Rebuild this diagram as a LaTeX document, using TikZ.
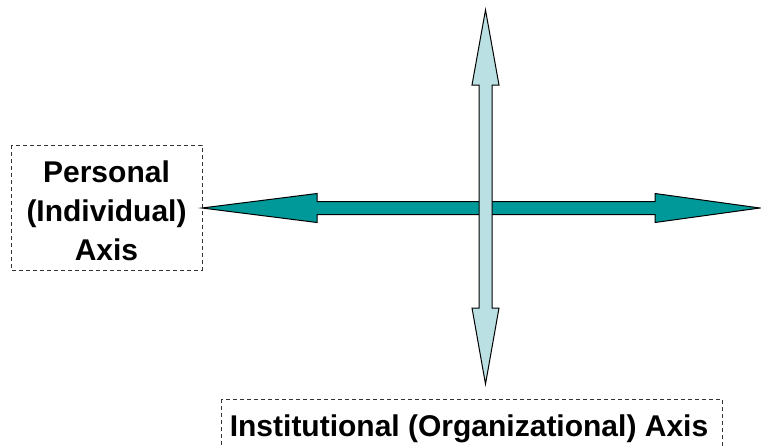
\documentclass[tikz,border=0pt]{standalone}
\usepackage{fontspec}
\setmainfont{Liberation Sans}
\definecolor{personalteal}{RGB}{0,153,153}
\definecolor{institblue}{RGB}{187,224,227}
\begin{document}
\begin{tikzpicture}[x=1pt,y=-1pt,
  axislabel/.style={font=\bfseries\fontsize{30}{39}\selectfont, align=center, inner sep=0pt},
  dashbox/.style={draw=black!80, line width=1pt, dash pattern=on 4pt off 3pt},
  blockarrow/.style={draw=black, line width=1pt, line join=miter}]
\useasboundingbox (0,0) rectangle (761,445);

% label boxes
\draw[dashbox] (11,145) rectangle (202,270);
\node[axislabel] (personal) at (106.5,211) {Personal\\(Individual)\\Axis};
\draw[dashbox] (221,399) rectangle (722,452);
\node[axislabel, anchor=base] (instit) at (469,436.5) {Institutional (Organizational) Axis};

% horizontal double arrow (personal axis)
\coordinate (hl) at (202,208);
\coordinate (hr) at (760,208);
\draw[blockarrow, fill=personalteal]
  (hl) -- (317,193.5) -- (317,201.5) -- (655,201.5) -- (655,193.5) -- (hr)
  -- (655,222.5) -- (655,214.5) -- (317,214.5) -- (317,222.5) -- cycle;

% vertical double arrow (institutional axis)
\coordinate (vt) at (485.5,10);
\coordinate (vb) at (485.5,384);
\draw[blockarrow, fill=institblue]
  (vt) -- (499,85) -- (492,85) -- (492,308) -- (499,308) -- (vb)
  -- (472,308) -- (479,308) -- (479,85) -- (472,85) -- cycle;
\end{tikzpicture}
\end{document}
